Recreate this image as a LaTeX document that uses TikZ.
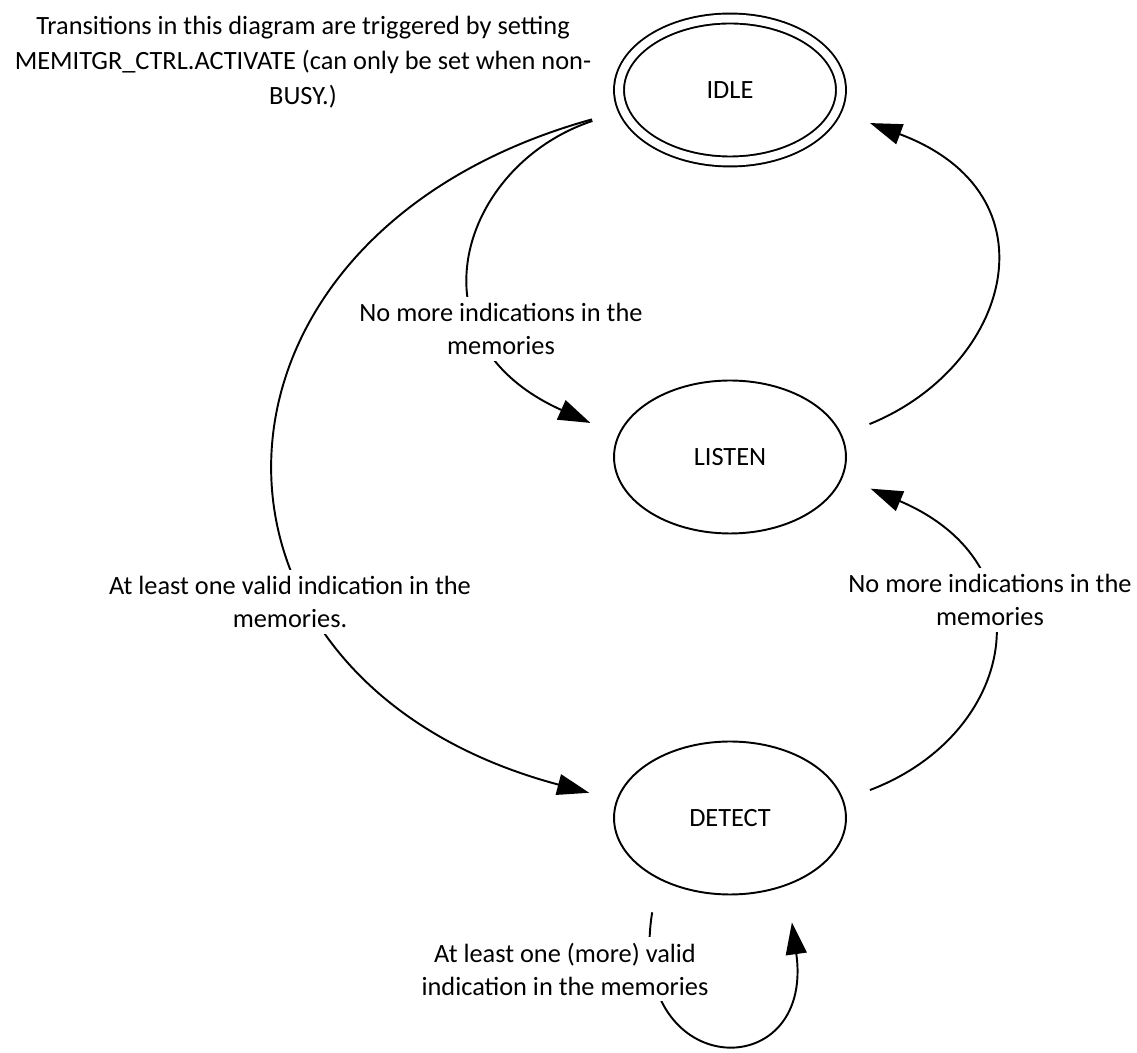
\documentclass[tikz,border=0pt]{standalone}
\usepackage{fontspec}
\setmainfont{Carlito}
\usepackage{tikz}
\usetikzlibrary{shapes.geometric,arrows.meta,positioning,calc}

\begin{document}
\begin{tikzpicture}[
    x=0.02cm, y=-0.02cm,
    state/.style={draw, ellipse, line width=1.1pt, minimum width=4.64cm, minimum height=3.06cm,
      font=\fontsize{15}{19}\selectfont},
    startstate/.style={state, double, double distance=0.16cm, minimum width=4.44cm, minimum height=2.86cm},
    trans/.style={line width=1.1pt, -{Triangle[length=0.64cm,width=0.42cm]}},
    lbl/.style={fill=white, align=center, inner sep=0.12cm, font=\fontsize{15}{18.8}\selectfont},
  ]
  \useasboundingbox (0,0) rectangle (1137,1053);

  % states
  \node[startstate] (idle) at (730,90) {IDLE};
  \node[state] (listen) at (730,457) {LISTEN};
  \node[state] (detect) at (730,818) {DETECT};

  % note on the triggering
  \node[align=center, font=\fontsize{15}{20}\selectfont] (note) at (303,62)
    {Transitions in this diagram are triggered by setting\\
     MEMITGR\_CTRL.ACTIVATE (can only be set when non-\\BUSY.)};

  % idle -- listen
  \draw[trans, shorten <=0.64cm, shorten >=0.6cm]
    (idle.191) .. controls (460,165) and (405,340) .. (listen.169);
  \node[lbl] (lblidlelisten) at (501,329) {No more indications in the\\memories};

  % listen -- idle
  \draw[trans, shorten <=0.59cm, shorten >=0.7cm]
    (listen.11) .. controls (1010,367) and (1060,194) .. (idle.349);

  % idle -- detect
  \draw[trans, shorten <=0.64cm, shorten >=0.56cm]
    (idle.191) .. controls (175,235) and (165,680) .. (detect.171);
  \node[lbl] (lblidledetect) at (290,602) {At least one valid indication in the\\memories.};

  % detect -- listen
  \draw[trans, shorten <=0.56cm, shorten >=0.6cm]
    (detect.9) .. controls (1015,735) and (1050,565) .. (listen.350);
  \node[lbl] (lbldetectlisten) at (990,600) {No more indications in the\\memories};

  % detect -- detect
  \draw[trans, shorten <=0.68cm, shorten >=0.74cm]
    (detect.220) .. controls (625,1082) and (815,1088) .. (detect.310);
  \node[lbl] (lbldetectloop) at (565,969) {At least one (more) valid\\indication in the memories};
\end{tikzpicture}
\end{document}
